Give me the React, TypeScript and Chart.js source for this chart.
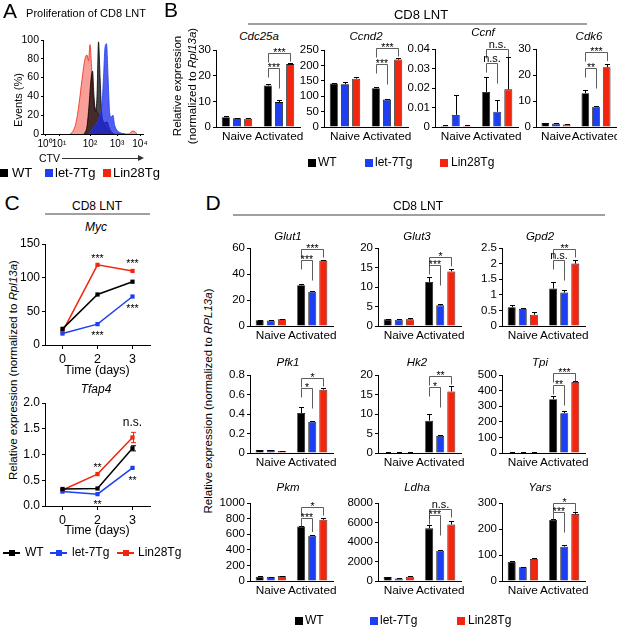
import React, { useEffect, useRef } from "react";
import { Chart, registerables } from "chart.js";

Chart.register(...registerables);

const FONT = "'Liberation Sans', Arial, Helvetica, sans-serif";
Chart.defaults.font.family = FONT;
Chart.defaults.color = "#000";

// ---------------- shared labels ----------------
const GROUPS = ["WT", "let-7Tg", "Lin28Tg"];
const CELL_STATES = ["Naive", "Activated"];
const DAYS = ["0", "2", "3"];

// ---------------- Panel A: CTV histograms (x in display units of the biexponential axis) ----------------
const CTV_TICK_POS = [2, 16, 47, 74, 97];
const CTV_TICK_LABELS = ["10⁰", "10¹", "10²", "10³", "10⁴"];
const CTV_LIN28_X = [27, 30, 33, 36, 39, 42, 44, 45.5, 47, 48.5, 50, 52, 55, 58, 62, 66, 70, 86, 89, 91, 94];
const CTV_LIN28_Y = [0, 3, 12, 32, 58, 80, 84, 78, 95, 72, 38, 28, 22, 16, 8, 3, 0, 0, 3, 3, 0];
const CTV_WT_X = [41, 44, 46, 48, 49.5, 51, 52.5, 54, 55.5, 57, 58.5, 60, 62, 64, 66, 68, 71];
const CTV_WT_Y = [0, 8, 30, 58, 67, 40, 24, 40, 98, 62, 25, 14, 12, 13, 7, 3, 0];
const CTV_LET7_X = [46, 50, 54, 57, 59, 60.5, 62, 63.5, 65, 66.5, 68, 70, 71.5, 74, 78, 82];
const CTV_LET7_Y = [0, 6, 12, 20, 32, 60, 92, 96, 62, 25, 18, 20, 10, 4, 1, 0];

// ---------------- Panel B: means / SEM  [group][Naive, Activated] ----------------
const CDC25A_MEAN = [[3.8, 16.2], [3.4, 9.7], [3.2, 24.5]];
const CDC25A_ERR = [[0.3, 0.4], [0.3, 0.7], [0.2, 0.3]];
const CDC25A_SIG = [{ to: 2, y: 28.8, text: "***" }, { to: 1, y: 23, text: "***" }];

const CCND2_MEAN = [[141, 126], [139, 89], [157, 219]];
const CCND2_ERR = [[3, 4], [8, 2], [4, 6]];
const CCND2_SIG = [{ to: 2, y: 258, text: "***" }, { to: 1, y: 205, text: "***" }];

const CCNF_MEAN = [[0.0005, 0.018], [0.0062, 0.0078], [0.0005, 0.0193]];
const CCNF_ERR = [[0.0003, 0.0075], [0.0104, 0.0058], [0.0003, 0.0165]];
const CCNF_SIG = [{ to: 2, y: 0.04, text: "n.s." }, { to: 1, y: 0.0328, text: "n.s." }];

const CDK6_MEAN = [[1.5, 13.0], [1.3, 7.8], [1.0, 23.0]];
const CDK6_ERR = [[0.2, 1.3], [0.2, 0.3], [0.2, 1.2]];
const CDK6_SIG = [{ to: 2, y: 28.8, text: "***" }, { to: 1, y: 22.7, text: "**" }];

// ---------------- Panel C: time course [day 0, 2, 3] ----------------
const MYC_WT = [24, 75, 94];
const MYC_LET7 = [17, 31, 72];
const MYC_LIN28 = [20, 119, 110];
const MYC_WT_ERR = [1, 1.5, 2];
const MYC_LET7_ERR = [1, 1.5, 2];
const MYC_LIN28_ERR = [1, 2, 2];
const MYC_MARKS = [
  { day: 1, y: 132, text: "***" },
  { day: 2, y: 125, text: "***" },
  { day: 1, y: 18, text: "***" },
  { day: 2, y: 58, text: "***" },
];

const TFAP4_WT = [0.33, 0.34, 1.12];
const TFAP4_LET7 = [0.28, 0.23, 0.74];
const TFAP4_LIN28 = [0.31, 0.62, 1.33];
const TFAP4_WT_ERR = [0.03, 0.02, 0.05];
const TFAP4_LET7_ERR = [0.02, 0.02, 0.04];
const TFAP4_LIN28_ERR = [0.02, 0.03, 0.1];
const TFAP4_MARKS = [
  { day: 2, y: 1.61, text: "n.s." },
  { day: 1, y: 0.8, text: "**" },
  { day: 1, y: 0.08, text: "**" },
  { day: 2, y: 0.54, text: "**" },
];

// ---------------- Panel D ----------------
const GLUT1_MEAN = [[4.5, 31.3], [4.2, 26.3], [5.2, 50.3]];
const GLUT1_ERR = [[0.2, 1.0], [0.3, 0.8], [0.4, 0.8]];
const GLUT1_SIG = [{ to: 2, y: 59.2, text: "***" }, { to: 1, y: 50.8, text: "***" }];

const GLUT3_MEAN = [[1.7, 11.3], [1.6, 5.3], [1.7, 14.0]];
const GLUT3_ERR = [[0.1, 1.2], [0.1, 0.3], [0.4, 0.5]];
const GLUT3_SIG = [{ to: 2, y: 17.7, text: "*" }, { to: 1, y: 15.6, text: "***" }];

const GPD2_MEAN = [[0.6, 1.2], [0.55, 1.07], [0.36, 2.0]];
const GPD2_ERR = [[0.08, 0.2], [0.03, 0.09], [0.08, 0.1]];
const GPD2_SIG = [{ to: 2, y: 2.47, text: "**" }, { to: 1, y: 2.12, text: "n.s." }];

const PFK1_MEAN = [[0.03, 0.41], [0.03, 0.32], [0.02, 0.65]];
const PFK1_ERR = [[0.005, 0.06], [0.005, 0.008], [0.003, 0.015]];
const PFK1_SIG = [{ to: 2, y: 0.77, text: "*" }, { to: 1, y: 0.667, text: "*" }];

const HK2_MEAN = [[0.15, 8.3], [0.1, 4.4], [0.12, 15.8]];
const HK2_ERR = [[0.05, 1.8], [0.03, 0.2], [0.03, 1.3]];
const HK2_SIG = [{ to: 2, y: 19.7, text: "**" }, { to: 1, y: 16.9, text: "*" }];

const TPI_MEAN = [[5, 345], [4, 255], [5, 455]];
const TPI_ERR = [[1, 18], [1, 12], [1, 4]];
const TPI_SIG = [{ to: 2, y: 513, text: "***" }, { to: 1, y: 436, text: "**" }];

const PKM_MEAN = [[55, 700], [52, 580], [65, 785]];
const PKM_ERR = [[3, 5], [3, 8], [5, 25]];
const PKM_SIG = [{ to: 2, y: 949, text: "*" }, { to: 1, y: 808, text: "***" }];

const LDHA_MEAN = [[400, 5400], [250, 3100], [430, 5800]];
const LDHA_ERR = [[40, 300], [30, 100], [40, 400]];
const LDHA_SIG = [{ to: 2, y: 7385, text: "n.s." }, { to: 1, y: 6770, text: "***" }];

const YARS_MEAN = [[73, 235], [53, 132], [85, 258]];
const YARS_ERR = [[4, 3], [2, 5], [4, 8]];
const YARS_SIG = [{ to: 2, y: 300, text: "*" }, { to: 1, y: 265, text: "***" }];

// ---------------- styles ----------------
const COLORS = ["#000000", "#1d3ff2", "#f2260f"];
const FILLS = ["rgba(0,0,0,0.72)", "rgba(25,40,235,0.75)", "rgba(242,80,70,0.55)"];

type Rect = { x0: number; x1: number; y0: number; y1: number };
type Sig = { to: number; y: number; text: string };
type Mark = { day: number; y: number; text: string };

const PAD = { l: 46, t: 34, r: 26, b: 28 };

function trimNum(v: number) {
  return String(Math.round(v * 1e6) / 1e6);
}

function ChartCanvas({ rect, build }: { rect: Rect; build: () => any }) {
  const ref = useRef<HTMLCanvasElement | null>(null);
  const w = rect.x1 - rect.x0 + PAD.l + PAD.r;
  const h = rect.y1 - rect.y0 + PAD.t + PAD.b;
  useEffect(() => {
    if (!ref.current) return;
    const cfg = build();
    const o = cfg.options;
    o.responsive = false;
    o.maintainAspectRatio = false;
    o.animation = false;
    o.events = [];
    o.layout = { padding: { left: 0, top: PAD.t, right: PAD.r, bottom: 0 } };
    o.plugins = { ...(o.plugins || {}), legend: { display: false }, tooltip: { enabled: false } };
    o.scales.x.afterFit = (s: any) => {
      s.height = PAD.b;
    };
    o.scales.y.afterFit = (s: any) => {
      s.width = PAD.l;
    };
    const chart = new Chart(ref.current, cfg);
    return () => chart.destroy();
  }, []);
  return (
    <canvas
      ref={ref}
      width={w}
      height={h}
      style={{ position: "absolute", left: rect.x0 - PAD.l, top: rect.y0 - PAD.t, width: w, height: h }}
    />
  );
}

function yAxis(max: number, step: number, size = 11.5, fmt?: (v: number) => string, tickLen = 3) {
  return {
    min: 0,
    max,
    ticks: {
      stepSize: step,
      autoSkip: false,
      color: "#000",
      font: { size },
      padding: 2,
      callback: (v: any) => (fmt ? fmt(Number(v)) : trimNum(Number(v))),
    },
    grid: { display: true, drawOnChartArea: false, drawTicks: true, tickLength: tickLen, color: "#000", tickColor: "#000", lineWidth: 1 },
    border: { display: true, color: "#000", width: 1 },
  };
}

function catAxis(size = 12, ticks = false) {
  return {
    ticks: { color: "#000", font: { size }, padding: 3, maxRotation: 0, minRotation: 0, autoSkip: false },
    grid: { display: ticks, drawOnChartArea: false, drawTicks: ticks, tickLength: 4, color: "#000", tickColor: "#000" },
    border: { display: true, color: "#000", width: 1 },
  };
}

const barErrorPlugin = {
  id: "barErr",
  afterDatasetsDraw(chart: any) {
    const ctx = chart.ctx;
    const ys = chart.scales.y;
    ctx.save();
    ctx.strokeStyle = "#000";
    ctx.lineWidth = 1;
    chart.data.datasets.forEach((ds: any, i: number) => {
      const meta = chart.getDatasetMeta(i);
      meta.data.forEach((el: any, j: number) => {
        const e = ds.errors ? ds.errors[j] : 0;
        if (!e) return;
        const top = Math.round(ys.getPixelForValue(ds.data[j] + e)) + 0.5;
        const x = Math.round(el.x) + 0.5;
        ctx.beginPath();
        ctx.moveTo(x, el.y);
        ctx.lineTo(x, top);
        ctx.moveTo(x - 2.5, top);
        ctx.lineTo(x + 2.5, top);
        ctx.stroke();
      });
    });
    ctx.restore();
  },
};

function bracketPlugin(sigs: Sig[]) {
  return {
    id: "brackets",
    afterDatasetsDraw(chart: any) {
      const ctx = chart.ctx;
      const ys = chart.scales.y;
      ctx.save();
      ctx.strokeStyle = "#333";
      ctx.fillStyle = "#000";
      ctx.lineWidth = 0.8;
      ctx.textAlign = "center";
      sigs.forEach((s) => {
        const a = chart.getDatasetMeta(0).data[1];
        const bDs = chart.data.datasets[s.to];
        const b = chart.getDatasetMeta(s.to).data[1];
        const ly = Math.round(ys.getPixelForValue(s.y)) + 0.5;
        const bTop = ys.getPixelForValue(bDs.data[1] + (bDs.errors ? bDs.errors[1] : 0));
        const rb = Math.min(Math.max(ly + 8, bTop - 3), ly + 20);
        const ax = Math.round(a.x) + 0.5;
        const bx = Math.round(b.x) + 0.5;
        ctx.beginPath();
        ctx.moveTo(ax, ly + 9);
        ctx.lineTo(ax, ly);
        ctx.lineTo(bx, ly);
        ctx.lineTo(bx, rb);
        ctx.stroke();
        const star = s.text.includes("*");
        ctx.font = `${star ? 10.5 : 11}px ${FONT}`;
        ctx.textBaseline = "alphabetic";
        ctx.fillText(s.text, (ax + bx) / 2, star ? ly + 2.5 : ly - 2);
      });
      ctx.restore();
    },
  };
}

const lineErrorPlugin = {
  id: "lineErr",
  afterDatasetsDraw(chart: any) {
    const ctx = chart.ctx;
    const ys = chart.scales.y;
    ctx.save();
    ctx.lineWidth = 1;
    chart.data.datasets.forEach((ds: any, i: number) => {
      if (!ds.errors) return;
      const meta = chart.getDatasetMeta(i);
      ctx.strokeStyle = ds.borderColor;
      meta.data.forEach((el: any, j: number) => {
        const e = ds.errors[j];
        const t = ys.getPixelForValue(ds.data[j] + e);
        const b = ys.getPixelForValue(ds.data[j] - e);
        if (Math.abs(b - t) < 5) return;
        const x = Math.round(el.x) + 0.5;
        ctx.beginPath();
        ctx.moveTo(x, t);
        ctx.lineTo(x, b);
        ctx.moveTo(x - 2.5, t);
        ctx.lineTo(x + 2.5, t);
        ctx.moveTo(x - 2.5, b);
        ctx.lineTo(x + 2.5, b);
        ctx.stroke();
      });
    });
    ctx.restore();
  },
};

function markPlugin(marks: Mark[]) {
  return {
    id: "marks",
    afterDatasetsDraw(chart: any) {
      const ctx = chart.ctx;
      const xs = chart.scales.x;
      const ys = chart.scales.y;
      ctx.save();
      ctx.fillStyle = "#000";
      ctx.textAlign = "center";
      marks.forEach((m) => {
        const x = xs.getPixelForValue(m.day);
        const y = ys.getPixelForValue(m.y);
        const star = m.text.includes("*");
        if (star) {
          ctx.font = `10.5px ${FONT}`;
          ctx.textBaseline = "alphabetic";
          ctx.fillText(m.text, x, y + 6);
        } else {
          ctx.font = `12px ${FONT}`;
          ctx.textBaseline = "middle";
          ctx.fillText(m.text, x, y);
        }
      });
      ctx.restore();
    },
  };
}

function BarPanel({ rect, mean, err, sig, max, step }: { rect: Rect; mean: number[][]; err: number[][]; sig: Sig[]; max: number; step: number }) {
  return (
    <ChartCanvas
      rect={rect}
      build={() => ({
        type: "bar",
        data: {
          labels: CELL_STATES,
          datasets: GROUPS.map((g, i) => ({
            label: g,
            data: mean[i],
            errors: err[i],
            backgroundColor: COLORS[i],
            borderColor: "#111",
            borderWidth: 0.8,
            categoryPercentage: 0.8,
            barPercentage: 0.72,
          })),
        },
        options: {
          scales: { x: catAxis(11.8), y: yAxis(max, step) },
        },
        plugins: [barErrorPlugin, bracketPlugin(sig)],
      })}
    />
  );
}

function LinePanel({ rect, series, errs, marks, max, step, fmt }: { rect: Rect; series: number[][]; errs: number[][]; marks: Mark[]; max: number; step: number; fmt?: (v: number) => string }) {
  return (
    <ChartCanvas
      rect={rect}
      build={() => ({
        type: "line",
        data: {
          labels: DAYS,
          datasets: GROUPS.map((g, i) => ({
            label: g,
            data: series[i],
            errors: errs[i],
            borderColor: COLORS[i],
            backgroundColor: COLORS[i],
            borderWidth: 1.5,
            pointStyle: "rect",
            pointRadius: 3,
            pointBorderWidth: 0,
            tension: 0,
          })),
        },
        options: {
          scales: { x: { ...catAxis(12.5, true), offset: true }, y: yAxis(max, step, 12, fmt) },
        },
        plugins: [lineErrorPlugin, markPlugin(marks)],
      })}
    />
  );
}

function HistPanel({ rect }: { rect: Rect }) {
  const xs = [CTV_WT_X, CTV_LET7_X, CTV_LIN28_X];
  const ys = [CTV_WT_Y, CTV_LET7_Y, CTV_LIN28_Y];
  return (
    <ChartCanvas
      rect={rect}
      build={() => ({
        type: "line",
        data: {
          datasets: GROUPS.map((g, i) => ({
            label: g,
            data: xs[i].map((x, k) => ({ x, y: ys[i][k] })),
            fill: "origin",
            backgroundColor: FILLS[i],
            borderColor: COLORS[i],
            borderWidth: 0.8,
            pointRadius: 0,
            tension: 0.35,
            cubicInterpolationMode: "monotone",
            order: i === 2 ? 3 : i === 0 ? 2 : 1,
          })),
        },
        options: {
          scales: {
            x: {
              type: "linear",
              min: 0,
              max: 100,
              afterBuildTicks: (s: any) => {
                s.ticks = CTV_TICK_POS.map((v) => ({ value: v }));
              },
              ticks: {
                color: "#000",
                font: { size: 10 },
                padding: 2,
                maxRotation: 0,
                minRotation: 0,
                autoSkip: false,
                callback: (v: any) => CTV_TICK_LABELS[CTV_TICK_POS.indexOf(Number(v))] ?? "",
              },
              grid: { display: true, drawOnChartArea: false, drawTicks: true, tickLength: 2, color: "#000" },
              border: { display: true, color: "#000", width: 1 },
            },
            y: yAxis(100, 20, 10.5, undefined, 2),
          },
        },
      })}
    />
  );
}

function T({ x, y, size = 12, italic = false, children, left = false, weight = 400 }: any) {
  return (
    <div
      style={{
        position: "absolute",
        left: x,
        top: y,
        transform: left ? "translate(0,-50%)" : "translate(-50%,-50%)",
        fontSize: size,
        fontStyle: italic ? "italic" : "normal",
        fontWeight: weight,
        whiteSpace: "nowrap",
        lineHeight: 1.15,
      }}
    >
      {children}
    </div>
  );
}

function VText({ x, y, size = 11.5, children }: any) {
  return (
    <div
      style={{
        position: "absolute",
        left: x,
        top: y,
        transform: "translate(-50%,-50%) rotate(-90deg)",
        fontSize: size,
        whiteSpace: "nowrap",
        textAlign: "center",
        lineHeight: "15px",
      }}
    >
      {children}
    </div>
  );
}

function HLine({ x0, x1, y, color = "#a0a0a0", w = 1.5 }: any) {
  return <div style={{ position: "absolute", left: x0, top: y - w / 2, width: x1 - x0, height: w, background: color }} />;
}

function SquareLegend({ y, items, size = 12 }: { y: number; items: { sq: number; tx: number }[]; size?: number }) {
  return (
    <>
      {items.map((it, i) => (
        <React.Fragment key={i}>
          <div style={{ position: "absolute", left: it.sq, top: y - 4, width: 8, height: 8, background: COLORS[i] }} />
          <T x={it.tx} y={y} size={size} left>
            {GROUPS[i]}
          </T>
        </React.Fragment>
      ))}
    </>
  );
}

function LineLegend({ y, items }: { y: number; items: { l0: number; tx: number }[] }) {
  return (
    <>
      {items.map((it, i) => (
        <React.Fragment key={i}>
          <div style={{ position: "absolute", left: it.l0, top: y - 0.75, width: 17, height: 1.5, background: COLORS[i] }} />
          <div style={{ position: "absolute", left: it.l0 + 5.5, top: y - 3, width: 6, height: 6, background: COLORS[i] }} />
          <T x={it.tx} y={y} size={12} left>
            {GROUPS[i]}
          </T>
        </React.Fragment>
      ))}
    </>
  );
}

// ---------------- layout ----------------
const A_RECT: Rect = { x0: 43, x1: 143, y0: 40, y1: 134 };
const B_RECTS: Rect[] = [
  { x0: 216, x1: 300, y0: 50, y1: 127 },
  { x0: 324, x1: 408, y0: 50, y1: 127 },
  { x0: 435, x1: 518, y0: 49, y1: 127 },
  { x0: 536, x1: 616, y0: 49, y1: 127 },
];
const C_MYC_RECT: Rect = { x0: 45, x1: 150, y0: 244, y1: 345 };
const C_TFAP4_RECT: Rect = { x0: 45, x1: 150, y0: 403, y1: 506 };
const D_COLS = [250, 378, 502];
const D_ROWS = [
  [248, 326],
  [375, 453],
  [503, 581],
];
const D_W = 83;
const dRect = (r: number, c: number): Rect => ({ x0: D_COLS[c], x1: D_COLS[c] + D_W, y0: D_ROWS[r][0], y1: D_ROWS[r][1] });

export default function App() {
  const dCharts = [
    { t: "Glut1", mean: GLUT1_MEAN, err: GLUT1_ERR, sig: GLUT1_SIG, max: 60, step: 20 },
    { t: "Glut3", mean: GLUT3_MEAN, err: GLUT3_ERR, sig: GLUT3_SIG, max: 20, step: 5 },
    { t: "Gpd2", mean: GPD2_MEAN, err: GPD2_ERR, sig: GPD2_SIG, max: 2.5, step: 0.5 },
    { t: "Pfk1", mean: PFK1_MEAN, err: PFK1_ERR, sig: PFK1_SIG, max: 0.8, step: 0.2 },
    { t: "Hk2", mean: HK2_MEAN, err: HK2_ERR, sig: HK2_SIG, max: 20, step: 5 },
    { t: "Tpi", mean: TPI_MEAN, err: TPI_ERR, sig: TPI_SIG, max: 500, step: 100 },
    { t: "Pkm", mean: PKM_MEAN, err: PKM_ERR, sig: PKM_SIG, max: 1000, step: 200 },
    { t: "Ldha", mean: LDHA_MEAN, err: LDHA_ERR, sig: LDHA_SIG, max: 8000, step: 2000 },
    { t: "Yars", mean: YARS_MEAN, err: YARS_ERR, sig: YARS_SIG, max: 300, step: 100 },
  ];
  const dTitleX = [288, 417, 540];
  const dTitleY = [237, 363, 488];

  const bCharts = [
    { t: "Cdc25a", mean: CDC25A_MEAN, err: CDC25A_ERR, sig: CDC25A_SIG, max: 30, step: 10, tx: 259, ty: 37 },
    { t: "Ccnd2", mean: CCND2_MEAN, err: CCND2_ERR, sig: CCND2_SIG, max: 250, step: 50, tx: 366, ty: 37 },
    { t: "Ccnf", mean: CCNF_MEAN, err: CCNF_ERR, sig: CCNF_SIG, max: 0.04, step: 0.01, tx: 483, ty: 33 },
    { t: "Cdk6", mean: CDK6_MEAN, err: CDK6_ERR, sig: CDK6_SIG, max: 30, step: 10, tx: 589, ty: 37 },
  ];

  return (
    <div
      style={{
        position: "absolute",
        left: 0,
        top: 0,
        width: 617,
        height: 627,
        background: "#fff",
        overflow: "hidden",
        fontFamily: FONT,
        color: "#000",
      }}
    >
      {/* ---------- Panel A ---------- */}
      <HistPanel rect={A_RECT} />
      <T x={10} y={11} size={21}>A</T>
      <T x={86} y={13} size={11}>Proliferation of CD8 LNT</T>
      <VText x={18} y={100} size={11}>Events (%)</VText>
      <T x={39} y={158} size={10.5} left>CTV</T>
      <HLine x0={62} x1={139} y={158} color="#333" w={1} />
      <div
        style={{
          position: "absolute",
          left: 138,
          top: 155,
          width: 0,
          height: 0,
          borderTop: "3px solid transparent",
          borderBottom: "3px solid transparent",
          borderLeft: "6px solid #333",
        }}
      />
      <SquareLegend y={173} size={13} items={[{ sq: 0, tx: 12 }, { sq: 45, tx: 55 }, { sq: 103, tx: 113 }]} />

      {/* ---------- Panel B ---------- */}
      <T x={171} y={10} size={21}>B</T>
      <VText x={185} y={86}>
        Relative expression
        <br />
        (normalized to <i>Rpl13a</i>)
      </VText>
      <T x={421} y={15} size={13}>CD8 LNT</T>
      <HLine x0={248} x1={587} y={24} />
      {bCharts.map((c, i) => (
        <React.Fragment key={c.t}>
          <T x={c.tx} y={c.ty} size={11.5} italic>{c.t}</T>
          <BarPanel rect={B_RECTS[i]} mean={c.mean} err={c.err} sig={c.sig} max={c.max} step={c.step} />
        </React.Fragment>
      ))}
      <SquareLegend y={163} items={[{ sq: 308, tx: 318 }, { sq: 365, tx: 375 }, { sq: 440, tx: 451 }]} />

      {/* ---------- Panel C ---------- */}
      <T x={12} y={203} size={21}>C</T>
      <T x={97} y={207} size={12}>CD8 LNT</T>
      <HLine x0={45} x1={150} y={214} />
      <VText x={13} y={370} size={11.5}>
        Relative expression (normalized to <i>Rpl13a</i>)
      </VText>
      <T x={96} y={228} size={12} italic>Myc</T>
      <LinePanel
        rect={C_MYC_RECT}
        series={[MYC_WT, MYC_LET7, MYC_LIN28]}
        errs={[MYC_WT_ERR, MYC_LET7_ERR, MYC_LIN28_ERR]}
        marks={MYC_MARKS}
        max={150}
        step={50}
      />
      <T x={97} y={370} size={12.5}>Time (days)</T>
      <T x={96} y={390} size={12} italic>Tfap4</T>
      <LinePanel
        rect={C_TFAP4_RECT}
        series={[TFAP4_WT, TFAP4_LET7, TFAP4_LIN28]}
        errs={[TFAP4_WT_ERR, TFAP4_LET7_ERR, TFAP4_LIN28_ERR]}
        marks={TFAP4_MARKS}
        max={2}
        step={0.5}
        fmt={(v: number) => v.toFixed(1)}
      />
      <T x={97} y={530} size={12.5}>Time (days)</T>
      <LineLegend y={553} items={[{ l0: 3, tx: 25 }, { l0: 50, tx: 72 }, { l0: 117, tx: 138 }]} />

      {/* ---------- Panel D ---------- */}
      <T x={213} y={203} size={21}>D</T>
      <T x={418} y={207} size={12}>CD8 LNT</T>
      <HLine x0={233} x1={605} y={215} />
      <VText x={208} y={401} size={11.5}>
        Relative expression (normalized to <i>RPL13a</i>)
      </VText>
      {dCharts.map((c, k) => {
        const r = Math.floor(k / 3);
        const col = k % 3;
        return (
          <React.Fragment key={c.t}>
            <T x={dTitleX[col]} y={dTitleY[r]} size={11.5} italic>{c.t}</T>
            <BarPanel rect={dRect(r, col)} mean={c.mean} err={c.err} sig={c.sig} max={c.max} step={c.step} />
          </React.Fragment>
        );
      })}
      <SquareLegend y={621} items={[{ sq: 295, tx: 305 }, { sq: 370, tx: 380 }, { sq: 457, tx: 468 }]} />
    </div>
  );
}
